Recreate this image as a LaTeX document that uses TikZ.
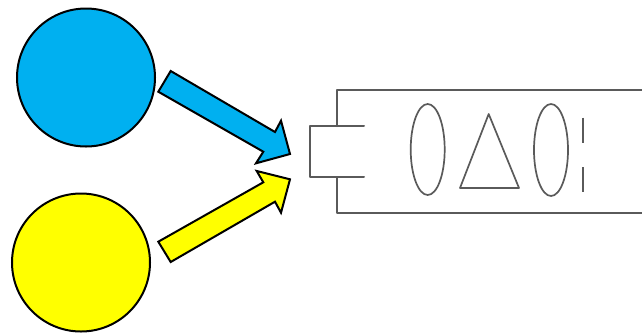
\documentclass[tikz,border=0pt]{standalone}
\definecolor{skyb}{HTML}{00B0F0}
\definecolor{yell}{HTML}{FFFF00}
\definecolor{grayline}{HTML}{5A5A5A}
\tikzset{
  blob/.style={draw=black,line width=2pt,line join=miter},
  sketch/.style={draw=grayline,line width=2pt,line join=round,line cap=round},
  thinsketch/.style={draw=grayline,line width=1.7pt,line join=round}
}
\begin{document}
\begin{tikzpicture}[x=1pt,y=-1pt]
\useasboundingbox (0,0) rectangle (642,333);
\draw[blob,fill=skyb] (86,77.5) circle (69);
\draw[blob,fill=yell] (81,262.5) circle (69);
\draw[blob,fill=skyb] (170.7,71) -- (275,132) -- (281,120.7) -- (290,154) -- (256,163.3) -- (263.3,151.7) -- (158.3,91.7) -- cycle;
\draw[blob,fill=yell] (158.3,241.7) -- (263.3,182.3) -- (256.7,171) -- (290,179.3) -- (281,212.7) -- (275,201.7) -- (170.7,262) -- cycle;
\draw[sketch] (642,90) -- (337,90) -- (337,126);
\draw[sketch] (364,126) -- (310,126) -- (310,177) -- (364,177);
\draw[sketch] (337,177) -- (337,213) -- (642,213);
\draw[thinsketch] (427.7,149.5) ellipse (17 and 45.5);
\draw[thinsketch] (488.7,114) -- (460,188) -- (519,188) -- cycle;
\draw[thinsketch] (551,150) ellipse (17 and 46);
\draw[thinsketch] (583,117.5) -- (583,143);
\draw[thinsketch] (583,167) -- (583,192);
\end{tikzpicture}
\end{document}
